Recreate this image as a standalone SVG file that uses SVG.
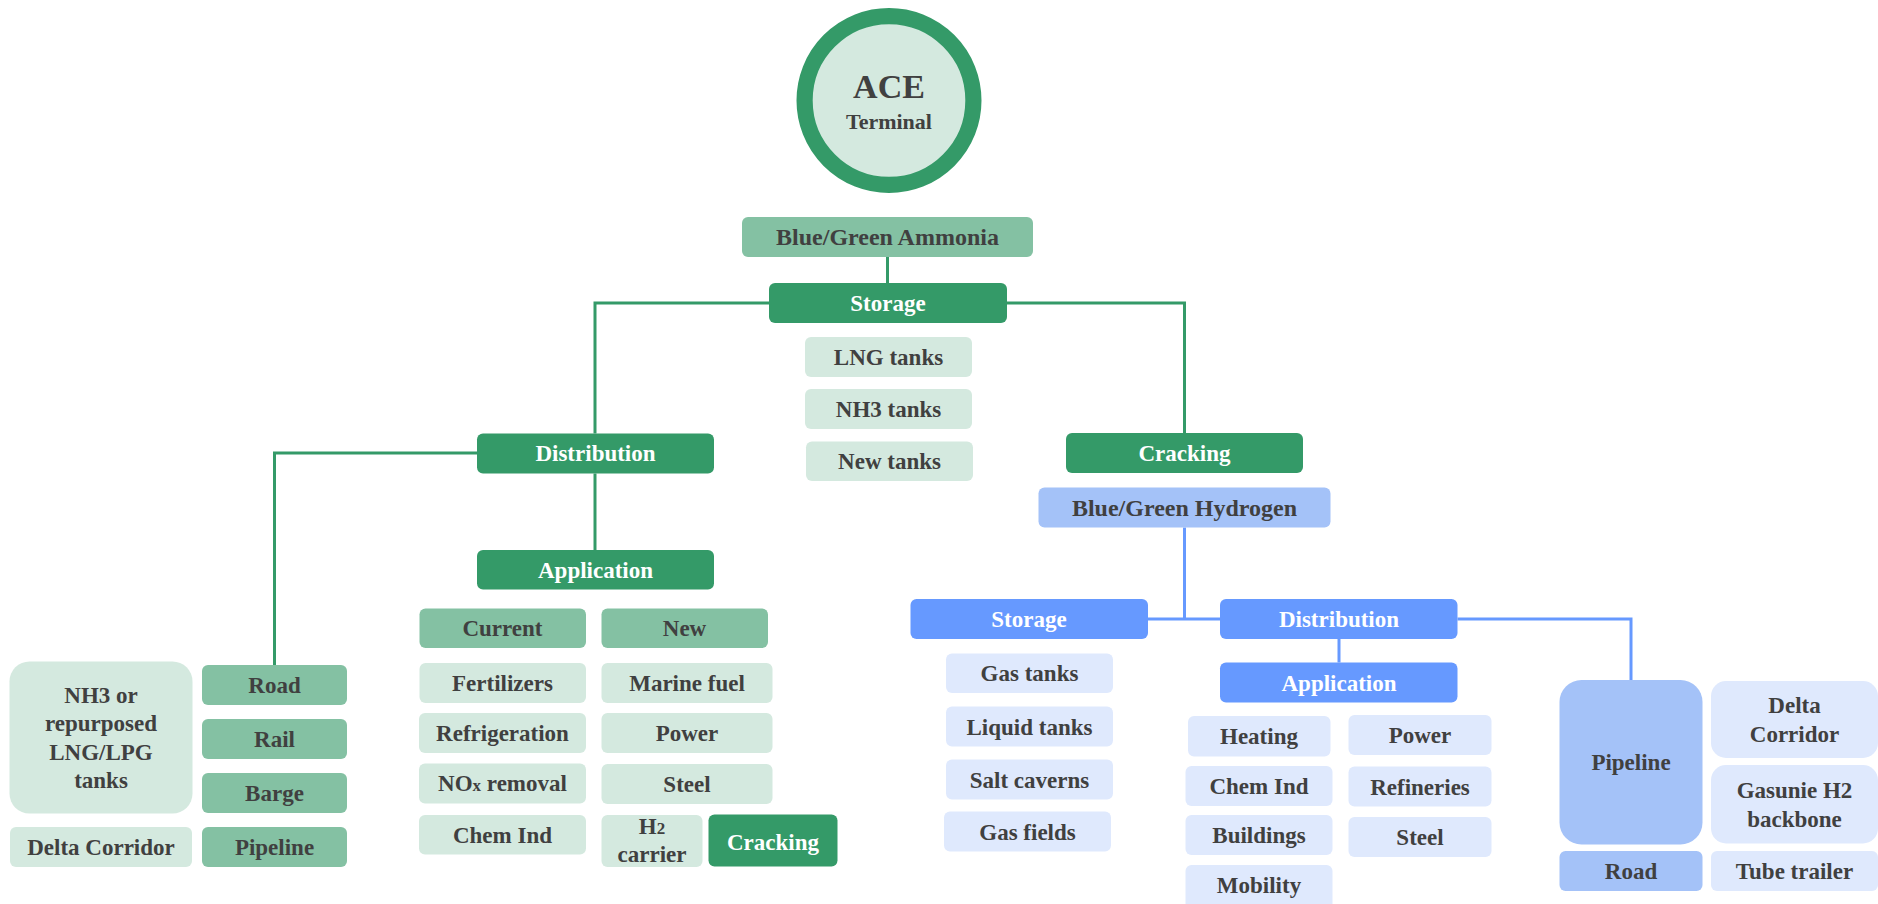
<svg xmlns="http://www.w3.org/2000/svg" width="1878" height="904" viewBox="0 0 1878 904">
  <style>
    text { font-family: "Liberation Serif", "Times New Roman", serif; font-weight: bold; font-size: 23px; fill: #404040; text-anchor: middle; }
    text.w { fill: #ffffff; }
    .g-dark { fill: #349a68; }
    .g-mid { fill: #84c1a3; }
    .g-light { fill: #d4e9df; }
    .b-dark { fill: #6699ff; }
    .b-mid { fill: #a4c2f8; }
    .b-light { fill: #dfe9fd; }
    .ln-g { fill: none; stroke: #349a68; stroke-width: 3; }
    .ln-b { fill: none; stroke: #6699ff; stroke-width: 3; }
  </style>

  <rect width="1878" height="904" fill="#ffffff"/>

  <!-- connectors -->
  <g id="connectors">
    <path class="ln-g" d="M887.5 257 V283"/>
    <path class="ln-g" d="M769 303 H595 V433.5"/>
    <path class="ln-g" d="M1007 303 H1184.5 V433"/>
    <path class="ln-g" d="M477 453 H274.5 V665"/>
    <path class="ln-g" d="M595 473.5 V550"/>
    <path class="ln-b" d="M1184.5 527.5 V619"/>
    <path class="ln-b" d="M1148 619 H1220"/>
    <path class="ln-b" d="M1457.5 619 H1631 V680"/>
    <path class="ln-b" d="M1339 639 V662.5"/>
  </g>

  <!-- terminal -->
  <g id="ace-terminal">
    <circle cx="889" cy="100.5" r="84.4" fill="#d4e9df" stroke="#349a68" stroke-width="16.2"/>
    <text x="889" y="98" style="font-size:34px">ACE</text>
    <text x="889" y="129" style="font-size:22px">Terminal</text>
  </g>

  <g id="blue-green-ammonia"><rect class="g-mid" x="742" y="217" width="291" height="40" rx="6"/><text x="887.5" y="245" style="font-size:24px">Blue/Green Ammonia</text></g>
  <g id="storage"><rect class="g-dark" x="769" y="283" width="238" height="40" rx="6"/><text class="w" x="888" y="311">Storage</text></g>
  <g id="lng-tanks"><rect class="g-light" x="805" y="337" width="167" height="40" rx="6"/><text x="888.5" y="365">LNG tanks</text></g>
  <g id="nh3-tanks"><rect class="g-light" x="805" y="389" width="167" height="40" rx="6"/><text x="888.5" y="417">NH3 tanks</text></g>
  <g id="new-tanks"><rect class="g-light" x="806" y="441.5" width="167" height="39.5" rx="6"/><text x="889.5" y="469">New tanks</text></g>

  <g id="distribution"><rect class="g-dark" x="477" y="433.5" width="237" height="40" rx="6"/><text class="w" x="595.5" y="461">Distribution</text></g>
  <g id="cracking"><rect class="g-dark" x="1066" y="433" width="237" height="40" rx="6"/><text class="w" x="1184.5" y="461">Cracking</text></g>
  <g id="application"><rect class="g-dark" x="477" y="550" width="237" height="39.5" rx="6"/><text class="w" x="595.5" y="578">Application</text></g>

  <g id="current"><rect class="g-mid" x="419.5" y="608.5" width="166.5" height="39.5" rx="6"/><text x="502.5" y="636">Current</text></g>
  <g id="new"><rect class="g-mid" x="601.5" y="608.5" width="166.5" height="39.5" rx="6"/><text x="684.5" y="636">New</text></g>
  <g id="fertilizers"><rect class="g-light" x="419.5" y="663" width="166.5" height="40" rx="6"/><text x="502.5" y="691">Fertilizers</text></g>
  <g id="marine-fuel"><rect class="g-light" x="601.5" y="663" width="171" height="40" rx="6"/><text x="687" y="691">Marine fuel</text></g>
  <g id="refrigeration"><rect class="g-light" x="419" y="713" width="167" height="40" rx="6"/><text x="502.5" y="741">Refrigeration</text></g>
  <g id="power-nh3"><rect class="g-light" x="601.5" y="713" width="171" height="40" rx="6"/><text x="687" y="741">Power</text></g>
  <g id="nox-removal"><rect class="g-light" x="419" y="763.5" width="167" height="40" rx="6"/><text x="502.5" y="791">NO<tspan style="font-size:17px">x</tspan> removal</text></g>
  <g id="steel-nh3"><rect class="g-light" x="601.5" y="764" width="171" height="40" rx="6"/><text x="687" y="792">Steel</text></g>
  <g id="chem-ind-nh3"><rect class="g-light" x="419" y="815" width="167" height="39.5" rx="6"/><text x="502.5" y="843">Chem Ind</text></g>
  <g id="h2-carrier"><rect class="g-light" x="601.5" y="815" width="101" height="52" rx="6"/><text x="652" y="834">H<tspan style="font-size:17px">2</tspan></text><text x="652" y="862">carrier</text></g>
  <g id="cracking-app"><rect class="g-dark" x="708.5" y="814.5" width="129" height="52" rx="6"/><text class="w" x="773" y="850">Cracking</text></g>

  <g id="nh3-repurposed-tanks"><rect class="g-light" x="9.5" y="661.5" width="183" height="152" rx="20"/>
    <text x="101" y="703">NH3 or</text><text x="101" y="731">repurposed</text><text x="101" y="759.5">LNG/LPG</text><text x="101" y="788">tanks</text></g>
  <g id="delta-corridor-nh3"><rect class="g-light" x="10" y="827" width="182" height="40" rx="6"/><text x="101" y="855">Delta Corridor</text></g>
  <g id="road-nh3"><rect class="g-mid" x="202" y="665" width="145" height="40" rx="6"/><text x="274.5" y="693">Road</text></g>
  <g id="rail"><rect class="g-mid" x="202" y="719" width="145" height="40" rx="6"/><text x="274.5" y="747">Rail</text></g>
  <g id="barge"><rect class="g-mid" x="202" y="773" width="145" height="40" rx="6"/><text x="274.5" y="801">Barge</text></g>
  <g id="pipeline-nh3"><rect class="g-mid" x="202" y="827" width="145" height="40" rx="6"/><text x="274.5" y="855">Pipeline</text></g>

  <!-- hydrogen branch -->
  <g id="blue-green-hydrogen"><rect class="b-mid" x="1038.5" y="487.5" width="292" height="40" rx="6"/><text x="1184.5" y="515.5" style="font-size:24px">Blue/Green Hydrogen</text></g>
  <g id="h2-storage"><rect class="b-dark" x="910.5" y="599" width="237.5" height="40" rx="6"/><text class="w" x="1029" y="627">Storage</text></g>
  <g id="h2-distribution"><rect class="b-dark" x="1220" y="599" width="237.5" height="40" rx="6"/><text class="w" x="1339" y="627">Distribution</text></g>
  <g id="h2-application"><rect class="b-dark" x="1220" y="662.5" width="237.5" height="40" rx="6"/><text class="w" x="1339" y="690.5">Application</text></g>

  <g id="gas-tanks"><rect class="b-light" x="946" y="653.5" width="167" height="39.5" rx="6"/><text x="1029.5" y="681">Gas tanks</text></g>
  <g id="liquid-tanks"><rect class="b-light" x="946" y="706.5" width="167" height="40" rx="6"/><text x="1029.5" y="734.5">Liquid tanks</text></g>
  <g id="salt-caverns"><rect class="b-light" x="946" y="759.5" width="167" height="40" rx="6"/><text x="1029.5" y="787.5">Salt caverns</text></g>
  <g id="gas-fields"><rect class="b-light" x="944" y="811.5" width="167" height="40" rx="6"/><text x="1027.5" y="839.5">Gas fields</text></g>

  <g id="heating"><rect class="b-light" x="1188" y="716" width="142.5" height="40.5" rx="6"/><text x="1259" y="744">Heating</text></g>
  <g id="power-h2"><rect class="b-light" x="1348.5" y="715" width="143" height="40" rx="6"/><text x="1420" y="743">Power</text></g>
  <g id="chem-ind-h2"><rect class="b-light" x="1185.5" y="766" width="147" height="40" rx="6"/><text x="1259" y="794">Chem Ind</text></g>
  <g id="refineries"><rect class="b-light" x="1348.5" y="766.5" width="143" height="40" rx="6"/><text x="1420" y="794.5">Refineries</text></g>
  <g id="buildings"><rect class="b-light" x="1185.5" y="815" width="147" height="40" rx="6"/><text x="1259" y="843">Buildings</text></g>
  <g id="steel-h2"><rect class="b-light" x="1348.5" y="817" width="143" height="40" rx="6"/><text x="1420" y="845">Steel</text></g>
  <g id="mobility"><rect class="b-light" x="1185.5" y="865" width="147" height="45" rx="6"/><text x="1259" y="893">Mobility</text></g>

  <g id="pipeline-h2"><rect class="b-mid" x="1559.5" y="680" width="143" height="164.5" rx="22"/><text x="1631" y="770">Pipeline</text></g>
  <g id="road-h2"><rect class="b-mid" x="1559.5" y="851" width="143" height="40" rx="6"/><text x="1631" y="878.5">Road</text></g>
  <g id="delta-corridor-h2"><rect class="b-light" x="1711" y="681" width="167" height="77" rx="15"/><text x="1794.5" y="713">Delta</text><text x="1794.5" y="742">Corridor</text></g>
  <g id="gasunie-backbone"><rect class="b-light" x="1711" y="765" width="167" height="78.5" rx="15"/><text x="1794.5" y="798">Gasunie H2</text><text x="1794.5" y="827">backbone</text></g>
  <g id="tube-trailer"><rect class="b-light" x="1711" y="851" width="167" height="40" rx="6"/><text x="1794.5" y="878.5">Tube trailer</text></g>
</svg>
